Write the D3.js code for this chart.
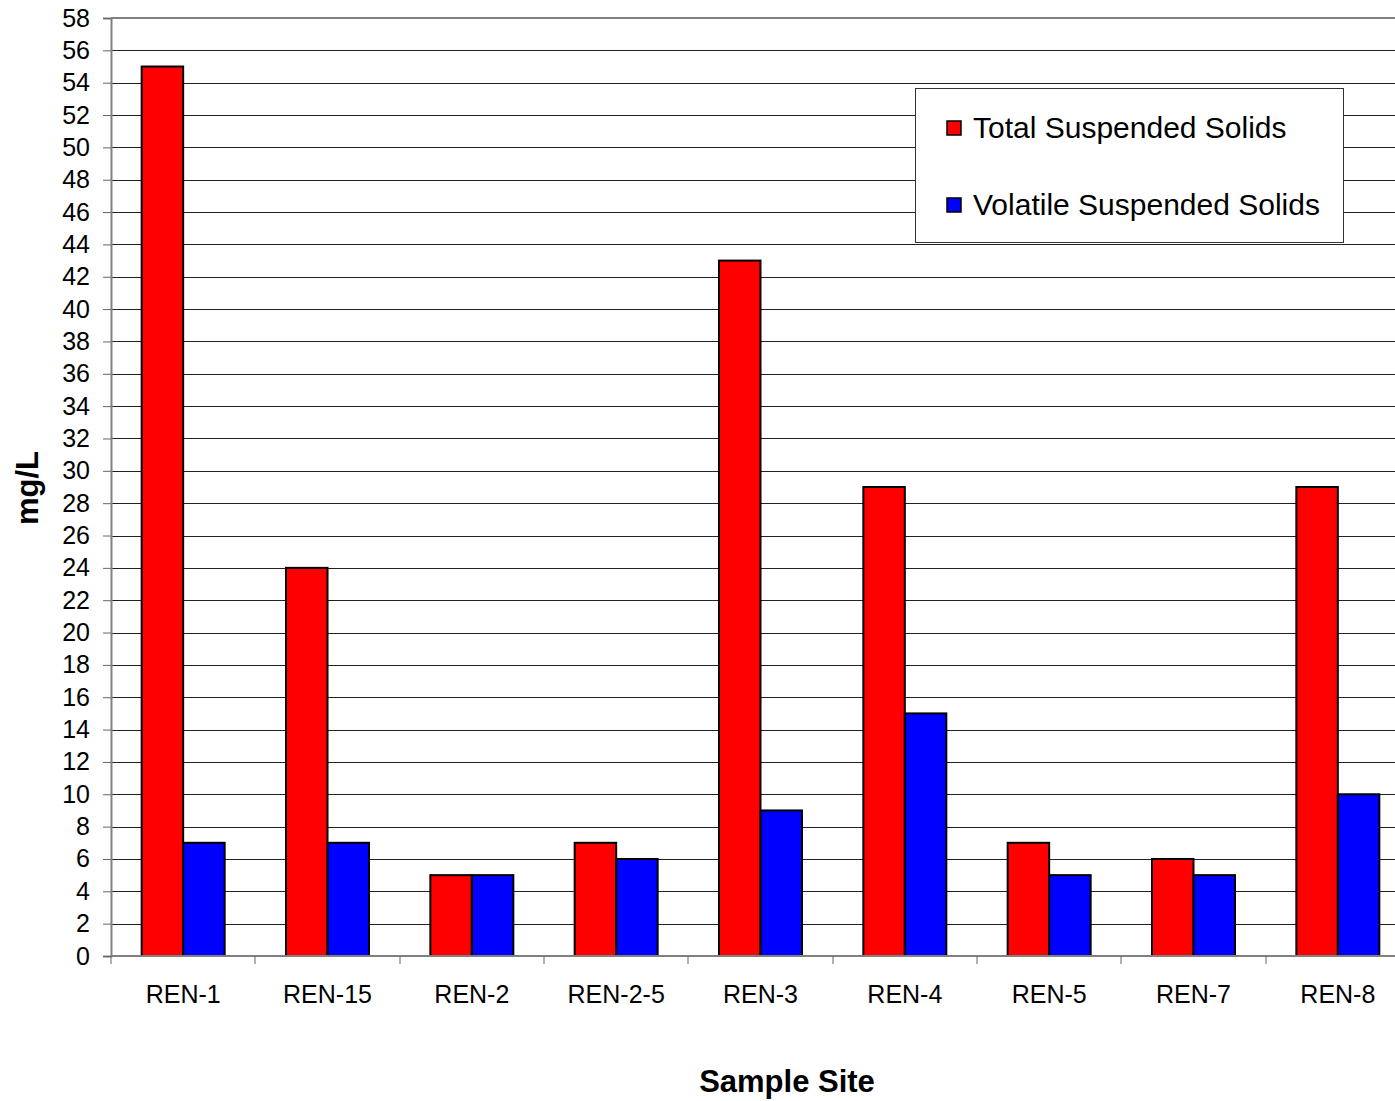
<!DOCTYPE html>
<html><head><meta charset="utf-8">
<script src="https://cdn.jsdelivr.net/npm/d3@7"></script>
<style>html,body{margin:0;padding:0;background:#fff;overflow:hidden}svg{display:block}</style>
</head><body>
<svg id="c" width="1395" height="1101"></svg>
<script>
const categories = ["REN-1","REN-15","REN-2","REN-2-5","REN-3","REN-4","REN-5","REN-7","REN-8"];
const tss = [55,24,5,7,43,29,7,6,29];
const vss = [7,7,5,6,9,15,5,5,10];
const seriesNames = ["Total Suspended Solids","Volatile Suspended Solids"];
const seriesColors = ["#ff0000","#0000ff"];
const yTicks = d3.range(0,59,2);

const svg = d3.select("#c");
const pLeft = 111, pTop = 18, pBottom = 956, pRight = 1410;
const font = "Liberation Sans, Arial, sans-serif";

const x = d3.scaleBand().domain(categories).range([pLeft,pRight]).paddingInner(0).paddingOuter(0);
const y = d3.scaleLinear().domain([0,58]).range([pBottom,pTop]);
const xs = d3.scaleBand().domain([0,1]).range([0, x.bandwidth()*0.575]).padding(0);

// gridlines
svg.append("g").selectAll("line").data(yTicks.filter(d=>d>0 && d<58)).join("line")
  .attr("x1",pLeft).attr("x2",pRight)
  .attr("y1",d=>Math.round(y(d))+0.5).attr("y2",d=>Math.round(y(d))+0.5)
  .attr("stroke","#222").attr("stroke-width",1);
// top border
svg.append("line").attr("x1",pLeft).attr("x2",pRight).attr("y1",pTop).attr("y2",pTop)
  .attr("stroke","#808080").attr("stroke-width",2);

// bars
const series = [tss,vss];
const g = svg.append("g");
categories.forEach((c,i)=>{
  const cx = x(c) + x.bandwidth()/2;
  const x0 = cx - xs.bandwidth();
  series.forEach((s,j)=>{
    g.append("rect")
      .attr("x", x0 + xs(j))
      .attr("y", y(s[i]))
      .attr("width", xs.bandwidth())
      .attr("height", y(0)-y(s[i]))
      .attr("fill", seriesColors[j])
      .attr("stroke","#000").attr("stroke-width",2);
  });
});

// y axis
const ya = svg.append("g").attr("transform",`translate(${pLeft},0)`)
  .call(d3.axisLeft(y).tickValues(yTicks).tickSize(8).tickPadding(13).tickFormat(d3.format("d")));
ya.select(".domain").attr("stroke","#808080").attr("stroke-width",2);
ya.selectAll(".tick line").attr("stroke","#666");
ya.selectAll("text").attr("font-family",font).attr("font-size",25).attr("fill","#000");

// x axis
const xa = svg.append("g").attr("transform",`translate(0,${pBottom})`)
  .call(d3.axisBottom(x).tickSize(0).tickPadding(29));
xa.select(".domain").remove();
xa.selectAll("text").attr("font-family",font).attr("font-size",25).attr("fill","#000");
svg.append("line").attr("x1",pLeft).attr("x2",pRight).attr("y1",pBottom).attr("y2",pBottom)
  .attr("stroke","#808080").attr("stroke-width",2);
svg.append("g").selectAll("line").data(categories).join("line")
  .attr("x1",d=>Math.round(x(d))).attr("x2",d=>Math.round(x(d)))
  .attr("y1",pBottom).attr("y2",pBottom+8).attr("stroke","#666").attr("stroke-width",1);

// axis titles
svg.append("text").attr("x",787).attr("y",1092).attr("text-anchor","middle")
  .attr("font-family",font).attr("font-weight","bold").attr("font-size",31).text("Sample Site");
svg.append("text").attr("transform","translate(38,488) rotate(-90)").attr("text-anchor","middle")
  .attr("font-family",font).attr("font-weight","bold").attr("font-size",31).text("mg/L");

// legend
const lg = svg.append("g");
lg.append("rect").attr("x",915.5).attr("y",88.5).attr("width",428).attr("height",154)
  .attr("fill","#fff").attr("stroke","#333").attr("stroke-width",1);
seriesNames.forEach((n,j)=>{
  const yy = 128 + j*77;
  lg.append("rect").attr("x",947).attr("y",yy-7).attr("width",14).attr("height",14)
    .attr("fill",seriesColors[j]).attr("stroke","#000").attr("stroke-width",1.5);
  lg.append("text").attr("x",973).attr("y",yy+10).attr("font-family",font).attr("font-size",30)
    .attr("fill","#000").text(n);
});
</script>
</body></html>
